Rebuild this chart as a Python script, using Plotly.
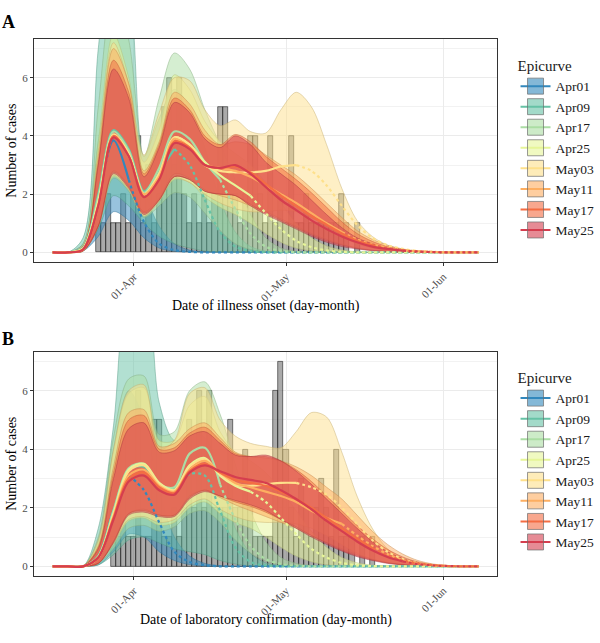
import plotly.graph_objects as go
import pandas as pd

# common date grid of the smoothed epicurves (every 3 days)
dates = ["2020-03-16", "2020-03-19", "2020-03-22", "2020-03-25", "2020-03-28", "2020-03-31",
         "2020-04-03", "2020-04-06", "2020-04-09", "2020-04-12", "2020-04-15", "2020-04-18",
         "2020-04-21", "2020-04-24", "2020-04-27", "2020-04-30", "2020-05-03", "2020-05-06",
         "2020-05-09", "2020-05-12", "2020-05-15", "2020-05-18", "2020-05-21", "2020-05-24",
         "2020-05-27", "2020-05-30", "2020-06-02", "2020-06-05", "2020-06-08"]

epicurves = ["Apr01", "Apr09", "Apr17", "Apr25", "May03", "May11", "May17", "May25"]
colors = ["#3288BD", "#66C2A5", "#ABDDA4", "#E6F598", "#FEE08B", "#FDAE61", "#F46D43", "#D53E4F"]
cutoffs = [5, 8, 11, 13, 16, 19, 21, 23]  # grid index where the median turns into a forecast

# daily case counts
onset_start = "2020-03-25"
onset_counts = [3, 1, 2, 1, 1, 2, 1, 2, 4, 1, 3, 1, 2, 5, 6, 3, 6, 2, 1, 2, 1, 2, 1, 2, 5, 5,
                2, 2, 1, 2, 4, 4, 2, 1, 4, 1, 2, 1, 4, 1, 1, 2, 1, 1, 1, 1, 1, 1, 2, 1, 0, 1]
confirm_start = "2020-03-28"
confirm_counts = [1, 1, 5, 1, 1, 6, 1, 1, 5, 5, 1, 1, 2, 1, 2, 5, 2, 6, 2, 6, 2, 2, 2, 5, 2, 2,
                  4, 2, 1, 1, 1, 1, 6, 7, 4, 2, 1, 3, 2, 1, 2, 3, 2, 1, 4, 1, 1, 1, 0, 1, 0, 1]

# panel A: illness onset (lower, median, upper)
a_apr01_lo = [0, 0, 0.05, 0.55, 1.4, 1.1, 0.5, 0.15, 0.04, 0.01, 0, 0, 0, 0, 0, 0, 0, 0, 0, 0, 0, 0, 0, 0, 0, 0, 0, 0, 0]
a_apr01_md = [0, 0, 0.15, 1.9, 3.85, 2.5, 1.05, 0.3, 0.08, 0.02, 0, 0, 0, 0, 0, 0, 0, 0, 0, 0, 0, 0, 0, 0, 0, 0, 0, 0, 0]
a_apr01_up = [0, 0, 0.3, 3.8, 6.6, 4.8, 2.2, 0.9, 0.3, 0.08, 0.02, 0, 0, 0, 0, 0, 0, 0, 0, 0, 0, 0, 0, 0, 0, 0, 0, 0, 0]
a_apr09_lo = [0, 0, 0.05, 0.8, 1.95, 1.6, 1.0, 0.55, 0.3, 0.15, 0.05, 0.01, 0, 0, 0, 0, 0, 0, 0, 0, 0, 0, 0, 0, 0, 0, 0, 0, 0]
a_apr09_md = [0, 0, 0.15, 2.0, 4.2, 3.55, 2.1, 2.8, 3.55, 3.0, 1.8, 0.7, 0.2, 0.05, 0.01, 0, 0, 0, 0, 0, 0, 0, 0, 0, 0, 0, 0, 0, 0]
a_apr09_up = [0, 0, 0.5, 7.0, 11.0, 9.5, 3.3, 4.6, 5.6, 5.0, 3.6, 1.8, 0.7, 0.2, 0.05, 0.01, 0, 0, 0, 0, 0, 0, 0, 0, 0, 0, 0, 0, 0]
a_apr17_lo = [0, 0, 0.05, 0.9, 2.55, 2.1, 1.2, 1.6, 2.05, 1.9, 1.35, 0.75, 0.3, 0.1, 0.03, 0.01, 0, 0, 0, 0, 0, 0, 0, 0, 0, 0, 0, 0, 0]
a_apr17_md = [0, 0, 0.15, 1.9, 4.15, 3.5, 2.05, 2.9, 4.15, 3.9, 3.1, 2.5, 1.5, 0.65, 0.2, 0.05, 0.01, 0, 0, 0, 0, 0, 0, 0, 0, 0, 0, 0, 0]
a_apr17_up = [0, 0, 0.3, 5.0, 9.0, 7.3, 3.3, 5.3, 6.85, 6.3, 4.9, 3.7, 2.5, 1.3, 0.5, 0.15, 0.04, 0.01, 0, 0, 0, 0, 0, 0, 0, 0, 0, 0, 0]
a_apr25_lo = [0, 0, 0.05, 0.9, 2.6, 2.15, 1.25, 1.8, 2.5, 2.4, 1.9, 1.55, 1.3, 1.0, 0.65, 0.35, 0.15, 0.06, 0.02, 0, 0, 0, 0, 0, 0, 0, 0, 0, 0]
a_apr25_md = [0, 0, 0.12, 1.75, 4.0, 3.35, 2.0, 2.7, 3.95, 3.7, 3.1, 2.65, 2.3, 1.95, 1.35, 0.8, 0.4, 0.18, 0.07, 0.02, 0, 0, 0, 0, 0, 0, 0, 0, 0]
a_apr25_up = [0, 0, 0.25, 3.8, 7.5, 6.0, 3.1, 4.2, 6.1, 5.6, 4.5, 3.8, 3.4, 3.0, 2.4, 1.7, 1.0, 0.5, 0.22, 0.08, 0.02, 0, 0, 0, 0, 0, 0, 0, 0]
a_may03_lo = [0, 0, 0.05, 0.9, 2.65, 2.15, 1.25, 1.75, 2.55, 2.4, 2.0, 1.7, 1.5, 1.4, 1.4, 1.45, 1.4, 1.2, 0.9, 0.55, 0.3, 0.15, 0.07, 0.03, 0.01, 0, 0, 0, 0]
a_may03_md = [0, 0, 0.12, 1.7, 4.05, 3.4, 2.0, 2.7, 3.95, 3.7, 3.0, 2.8, 2.75, 2.75, 2.8, 2.95, 3.0, 2.8, 2.3, 1.6, 0.95, 0.5, 0.25, 0.12, 0.05, 0.02, 0, 0, 0]
a_may03_up = [0, 0, 0.25, 3.5, 7.2, 5.8, 3.35, 4.8, 6.0, 5.9, 4.9, 4.35, 4.55, 4.15, 4.1, 4.9, 5.5, 5.0, 3.7, 2.2, 1.1, 0.55, 0.25, 0.1, 0.04, 0.01, 0, 0, 0]
a_may11_lo = [0, 0, 0.05, 0.9, 2.8, 2.3, 1.4, 1.85, 2.7, 2.55, 2.15, 1.95, 1.8, 1.6, 1.4, 1.15, 0.9, 0.65, 0.45, 0.28, 0.16, 0.08, 0.04, 0.02, 0, 0, 0, 0, 0]
a_may11_md = [0, 0, 0.1, 1.6, 4.0, 3.3, 2.0, 2.6, 3.9, 3.6, 3.0, 2.9, 2.8, 2.6, 2.3, 2.0, 1.7, 1.35, 1.0, 0.7, 0.45, 0.28, 0.16, 0.08, 0.04, 0.02, 0, 0, 0]
a_may11_up = [0, 0, 0.2, 3.3, 7.0, 5.8, 2.8, 3.8, 5.5, 5.1, 4.2, 3.7, 3.8, 3.7, 3.35, 3.0, 2.65, 2.2, 1.7, 1.2, 0.75, 0.45, 0.25, 0.12, 0.05, 0.02, 0, 0, 0]
a_may17_lo = [0, 0, 0.05, 0.9, 2.75, 2.25, 1.35, 1.8, 2.6, 2.5, 2.1, 2.0, 1.95, 1.65, 1.35, 1.1, 0.85, 0.6, 0.4, 0.25, 0.14, 0.07, 0.03, 0.01, 0, 0, 0, 0, 0]
a_may17_md = [0, 0, 0.1, 1.6, 4.0, 3.3, 1.9, 2.5, 3.8, 3.6, 3.0, 2.9, 2.95, 2.75, 2.35, 1.95, 1.6, 1.25, 0.95, 0.65, 0.4, 0.25, 0.14, 0.07, 0.03, 0.01, 0, 0, 0]
a_may17_up = [0, 0, 0.2, 3.1, 6.6, 5.5, 2.7, 3.7, 5.3, 4.9, 4.0, 3.7, 4.05, 3.8, 3.3, 2.9, 2.5, 2.05, 1.55, 1.05, 0.65, 0.38, 0.2, 0.1, 0.04, 0.02, 0, 0, 0]
a_may25_lo = [0, 0, 0.05, 0.9, 2.7, 2.2, 1.3, 1.8, 2.6, 2.5, 2.1, 2.0, 1.95, 1.6, 1.3, 1.05, 0.8, 0.55, 0.35, 0.2, 0.12, 0.06, 0.03, 0.01, 0, 0, 0, 0, 0]
a_may25_md = [0, 0, 0.1, 1.6, 3.95, 3.3, 1.9, 2.5, 3.75, 3.55, 3.0, 2.9, 3.0, 2.7, 2.25, 1.8, 1.45, 1.1, 0.8, 0.55, 0.35, 0.2, 0.12, 0.06, 0.03, 0.01, 0, 0, 0]
a_may25_up = [0, 0, 0.2, 3.0, 6.3, 5.3, 2.6, 3.6, 5.15, 4.8, 3.9, 3.6, 4.0, 3.7, 3.1, 2.7, 2.3, 1.8, 1.3, 0.85, 0.5, 0.3, 0.15, 0.07, 0.03, 0.01, 0, 0, 0]

# panel B: laboratory confirmation (lower, median, upper)
b_apr01_lo = [0, 0, 0, 0.05, 0.5, 1.1, 1.0, 0.5, 0.2, 0.06, 0.01, 0, 0, 0, 0, 0, 0, 0, 0, 0, 0, 0, 0, 0, 0, 0, 0, 0, 0]
b_apr01_md = [0, 0, 0, 0.35, 1.9, 3.1, 2.6, 1.5, 0.5, 0.15, 0.04, 0, 0, 0, 0, 0, 0, 0, 0, 0, 0, 0, 0, 0, 0, 0, 0, 0, 0]
b_apr01_up = [0, 0, 0, 0.9, 4.0, 6.0, 5.0, 2.6, 1.0, 0.35, 0.1, 0.02, 0, 0, 0, 0, 0, 0, 0, 0, 0, 0, 0, 0, 0, 0, 0, 0, 0]
b_apr09_lo = [0, 0, 0, 0.05, 0.4, 0.9, 1.0, 0.8, 0.6, 0.5, 0.4, 0.2, 0.08, 0.02, 0, 0, 0, 0, 0, 0, 0, 0, 0, 0, 0, 0, 0, 0, 0]
b_apr09_md = [0, 0, 0, 0.35, 1.9, 3.3, 3.4, 2.75, 2.65, 3.15, 3.1, 1.9, 0.65, 0.15, 0.03, 0, 0, 0, 0, 0, 0, 0, 0, 0, 0, 0, 0, 0, 0]
b_apr09_up = [0, 0, 0, 1.3, 4.8, 9.5, 10.0, 5.6, 4.3, 4.5, 4.4, 3.0, 1.3, 0.45, 0.12, 0.03, 0, 0, 0, 0, 0, 0, 0, 0, 0, 0, 0, 0, 0]
b_apr17_lo = [0, 0, 0, 0.1, 0.6, 1.3, 1.4, 1.2, 1.35, 1.8, 1.9, 1.5, 0.9, 0.45, 0.18, 0.06, 0.02, 0, 0, 0, 0, 0, 0, 0, 0, 0, 0, 0, 0]
b_apr17_md = [0, 0, 0, 0.35, 1.9, 3.35, 3.5, 2.8, 2.7, 3.85, 4.05, 2.8, 1.6, 0.7, 0.25, 0.08, 0.02, 0, 0, 0, 0, 0, 0, 0, 0, 0, 0, 0, 0]
b_apr17_up = [0, 0, 0, 1.0, 4.4, 6.4, 6.5, 4.5, 4.6, 6.0, 6.3, 5.2, 3.5, 1.9, 0.85, 0.3, 0.1, 0.03, 0, 0, 0, 0, 0, 0, 0, 0, 0, 0, 0]
b_apr25_lo = [0, 0, 0, 0.1, 0.75, 1.55, 1.65, 1.4, 1.5, 2.0, 2.2, 1.8, 1.5, 1.3, 1.0, 0.65, 0.35, 0.16, 0.06, 0.02, 0, 0, 0, 0, 0, 0, 0, 0, 0]
b_apr25_md = [0, 0, 0, 0.3, 1.8, 3.3, 3.5, 2.85, 2.6, 3.45, 3.7, 3.1, 2.75, 2.55, 2.2, 1.65, 1.1, 0.6, 0.3, 0.12, 0.04, 0.01, 0, 0, 0, 0, 0, 0, 0]
b_apr25_up = [0, 0, 0, 0.8, 3.9, 5.9, 6.1, 4.3, 4.3, 5.5, 5.8, 4.6, 3.9, 3.6, 3.2, 2.6, 1.9, 1.2, 0.65, 0.3, 0.12, 0.04, 0.01, 0, 0, 0, 0, 0, 0]
b_may03_lo = [0, 0, 0, 0.1, 0.8, 1.6, 1.7, 1.5, 1.6, 2.1, 2.3, 1.95, 1.7, 1.55, 1.5, 1.5, 1.45, 1.3, 1.05, 0.75, 0.45, 0.25, 0.12, 0.05, 0.02, 0.01, 0, 0, 0]
b_may03_md = [0, 0, 0, 0.3, 1.75, 3.25, 3.45, 2.8, 2.6, 3.4, 3.65, 3.15, 2.8, 2.75, 2.8, 2.85, 2.85, 2.7, 2.45, 2.0, 1.45, 0.9, 0.5, 0.25, 0.11, 0.04, 0.01, 0, 0]
b_may03_up = [0, 0, 0, 0.9, 4.0, 6.0, 6.2, 4.0, 4.3, 5.9, 6.1, 5.0, 4.45, 4.2, 4.1, 4.05, 4.6, 5.25, 5.1, 3.9, 2.4, 1.3, 0.6, 0.25, 0.1, 0.03, 0.01, 0, 0]
b_may11_lo = [0, 0, 0, 0.1, 0.85, 1.8, 1.95, 1.75, 1.75, 2.4, 2.6, 2.35, 2.1, 1.9, 1.7, 1.5, 1.3, 1.05, 0.82, 0.6, 0.4, 0.24, 0.13, 0.06, 0.02, 0.01, 0, 0, 0]
b_may11_md = [0, 0, 0, 0.3, 1.7, 3.1, 3.3, 2.75, 2.55, 3.3, 3.6, 3.2, 2.85, 2.7, 2.55, 2.4, 2.2, 1.9, 1.65, 1.45, 1.05, 0.7, 0.42, 0.22, 0.1, 0.04, 0.01, 0, 0]
b_may11_up = [0, 0, 0, 0.7, 3.4, 5.25, 5.35, 4.1, 4.2, 4.7, 4.9, 4.4, 3.9, 3.75, 3.7, 3.6, 3.4, 3.1, 2.7, 2.3, 1.75, 1.2, 0.75, 0.42, 0.2, 0.08, 0.03, 0, 0]
b_may17_lo = [0, 0, 0, 0.1, 0.85, 1.8, 1.9, 1.75, 1.75, 2.35, 2.6, 2.4, 2.2, 2.05, 1.85, 1.6, 1.35, 1.05, 0.8, 0.55, 0.36, 0.22, 0.12, 0.06, 0.02, 0.01, 0, 0, 0]
b_may17_md = [0, 0, 0, 0.3, 1.65, 3.0, 3.2, 2.7, 2.5, 3.25, 3.5, 3.2, 2.95, 2.85, 2.75, 2.55, 2.3, 2.0, 1.65, 1.3, 0.95, 0.62, 0.37, 0.2, 0.1, 0.04, 0.01, 0, 0]
b_may17_up = [0, 0, 0, 0.65, 3.2, 5.0, 5.15, 4.0, 4.05, 4.55, 4.75, 4.3, 3.85, 3.75, 3.75, 3.6, 3.3, 2.9, 2.4, 1.9, 1.4, 0.95, 0.58, 0.32, 0.15, 0.06, 0.02, 0, 0]
b_may25_lo = [0, 0, 0, 0.1, 0.8, 1.75, 1.85, 1.7, 1.7, 2.3, 2.55, 2.4, 2.25, 2.1, 1.9, 1.6, 1.3, 1.0, 0.75, 0.52, 0.33, 0.2, 0.1, 0.05, 0.02, 0.01, 0, 0, 0]
b_may25_md = [0, 0, 0, 0.3, 1.6, 2.9, 3.1, 2.6, 2.45, 3.2, 3.45, 3.25, 3.05, 2.95, 2.85, 2.6, 2.3, 1.95, 1.55, 1.2, 0.85, 0.55, 0.32, 0.17, 0.08, 0.03, 0.01, 0, 0]
b_may25_up = [0, 0, 0, 0.6, 3.0, 4.7, 4.9, 3.9, 3.95, 4.45, 4.6, 4.2, 3.8, 3.75, 3.8, 3.6, 3.25, 2.8, 2.3, 1.8, 1.3, 0.85, 0.5, 0.27, 0.13, 0.05, 0.02, 0, 0]

onset_bands = [
    (a_apr01_lo, a_apr01_md, a_apr01_up), (a_apr09_lo, a_apr09_md, a_apr09_up),
    (a_apr17_lo, a_apr17_md, a_apr17_up), (a_apr25_lo, a_apr25_md, a_apr25_up),
    (a_may03_lo, a_may03_md, a_may03_up), (a_may11_lo, a_may11_md, a_may11_up),
    (a_may17_lo, a_may17_md, a_may17_up), (a_may25_lo, a_may25_md, a_may25_up),
]
confirm_bands = [
    (b_apr01_lo, b_apr01_md, b_apr01_up), (b_apr09_lo, b_apr09_md, b_apr09_up),
    (b_apr17_lo, b_apr17_md, b_apr17_up), (b_apr25_lo, b_apr25_md, b_apr25_up),
    (b_may03_lo, b_may03_md, b_may03_up), (b_may11_lo, b_may11_md, b_may11_up),
    (b_may17_lo, b_may17_md, b_may17_up), (b_may25_lo, b_may25_md, b_may25_up),
]

FONT = "Liberation Serif"
DAY_MS = 86400000


def rgba(hexc, a, k=1.0):
    r, g, b = (int(hexc[i:i + 2], 16) for i in (1, 3, 5))
    return f"rgba({int(r * k)},{int(g * k)},{int(b * k)},{a})"


def add_panel(fig, xa, ya, counts, start, bands):
    days = pd.date_range(start, periods=len(counts), freq="D")
    fig.add_trace(go.Bar(
        x=days, y=counts, width=DAY_MS, xaxis=xa, yaxis=ya, showlegend=False, hoverinfo="skip",
        marker=dict(color="rgba(100,100,100,0.55)", line=dict(color="rgba(0,0,0,0.85)", width=0.6)),
    ))
    for col, (lo, md, up) in zip(colors, bands):
        edge = dict(color=rgba(col, 0.9, 0.78), width=0.5, shape="spline", smoothing=0.9)
        fig.add_trace(go.Scatter(x=dates, y=lo, mode="lines", line=edge, xaxis=xa, yaxis=ya,
                                 showlegend=False, hoverinfo="skip"))
        fig.add_trace(go.Scatter(x=dates, y=up, mode="lines", line=edge, fill="tonexty",
                                 fillcolor=rgba(col, 0.5), xaxis=xa, yaxis=ya,
                                 showlegend=False, hoverinfo="skip"))
    for col, cut, (lo, md, up) in zip(colors, cutoffs, bands):
        fig.add_trace(go.Scatter(x=dates[cut:], y=md[cut:], mode="lines", xaxis=xa, yaxis=ya,
                                 line=dict(color=col, width=2.2, dash="dot", shape="spline", smoothing=0.9),
                                 showlegend=False, hoverinfo="skip"))
        fig.add_trace(go.Scatter(x=dates[:cut + 1], y=md[:cut + 1], mode="lines", xaxis=xa, yaxis=ya,
                                 line=dict(color=col, width=2.2, shape="spline", smoothing=0.9),
                                 showlegend=False, hoverinfo="skip"))


fig = go.Figure()
add_panel(fig, "x", "y", onset_counts, onset_start, onset_bands)
add_panel(fig, "x2", "y2", confirm_counts, confirm_start, confirm_bands)

for leg, xa, ya in (("legend", "x", "y"), ("legend2", "x2", "y2")):
    for name, col in zip(epicurves, colors):
        fig.add_trace(go.Scatter(
            x=[None], y=[None], mode="lines+markers", name=name, legend=leg, xaxis=xa, yaxis=ya,
            line=dict(color=col, width=2),
            marker=dict(symbol="square", size=16, color=rgba(col, 0.6),
                        line=dict(color="rgba(110,110,110,0.7)", width=1)),
        ))

xaxis_style = dict(
    type="date", range=["2020-03-12 08:00", "2020-06-11 14:00"], automargin=False,
    tickvals=["2020-04-01", "2020-05-01", "2020-06-01"], ticktext=["01-Apr", "01-May", "01-Jun"],
    tickangle=-45, tickfont=dict(family=FONT, size=11, color="#4D4D4D"),
    showgrid=True, gridcolor="#EBEBEB", gridwidth=1,
    showline=True, linecolor="#333333", linewidth=1, mirror=True,
    ticks="outside", ticklen=3, tickcolor="#333333", zeroline=False,
)
yaxis_style = dict(
    range=[-0.33, 7.33], tickvals=[0, 2, 4, 6], automargin=False,
    tickfont=dict(family=FONT, size=11, color="#4D4D4D"),
    showgrid=True, gridcolor="#EBEBEB", gridwidth=1,
    minor=dict(dtick=1, showgrid=True, gridcolor="#F2F2F2", gridwidth=0.6),
    showline=True, linecolor="#333333", linewidth=1, mirror=True,
    ticks="outside", ticklen=3, tickcolor="#333333", zeroline=False,
)

legend_style = dict(
    xanchor="left", yanchor="top", bgcolor="rgba(0,0,0,0)", traceorder="normal",
    font=dict(family=FONT, size=13.5, color="#1a1a1a"),
    title=dict(text="Epicurve", font=dict(family=FONT, size=15, color="#1a1a1a")),
    itemsizing="trace",
)

fig.update_layout(
    width=600, height=643, margin=dict(l=34, r=103, t=39, b=67, autoexpand=False),
    plot_bgcolor="white", paper_bgcolor="white", barmode="overlay", bargap=0,
    xaxis=dict(domain=[0, 1], anchor="y", **xaxis_style),
    yaxis=dict(domain=[0.5847, 1], anchor="x", **yaxis_style),
    xaxis2=dict(domain=[0, 1], anchor="y2", **xaxis_style),
    yaxis2=dict(domain=[0, 0.4177], anchor="x2", **yaxis_style),
    legend=dict(x=1.040, y=0.977, **legend_style),
    legend2=dict(x=1.040, y=0.396, **legend_style),
    font=dict(family=FONT),
)

annots = [
    dict(text="<b>A</b>", x=-0.056, y=1.032, font=dict(size=18)),
    dict(text="<b>B</b>", x=-0.056, y=0.441, font=dict(size=18)),
    dict(text="Date of illness onset (day-month)", x=0.5, y=0.503, font=dict(size=14)),
    dict(text="Date of laboratory confirmation (day-month)", x=0.5, y=-0.082, font=dict(size=14)),
    dict(text="Number of cases", x=-0.0475, y=0.792, textangle=-90, font=dict(size=14)),
    dict(text="Number of cases", x=-0.0475, y=0.209, textangle=-90, font=dict(size=14)),
]
for a in annots:
    fig.add_annotation(xref="paper", yref="paper", showarrow=False, xanchor="center", yanchor="middle",
                       text=a["text"], x=a["x"], y=a["y"], textangle=a.get("textangle", 0),
                       font=dict(family=FONT, color="black", **a["font"]))

# drop the browser's default body margin so the figure sits at the page corner
fig.write_html("out.html", config={"displayModeBar": False},
               post_script="document.body.style.margin = '0';")
